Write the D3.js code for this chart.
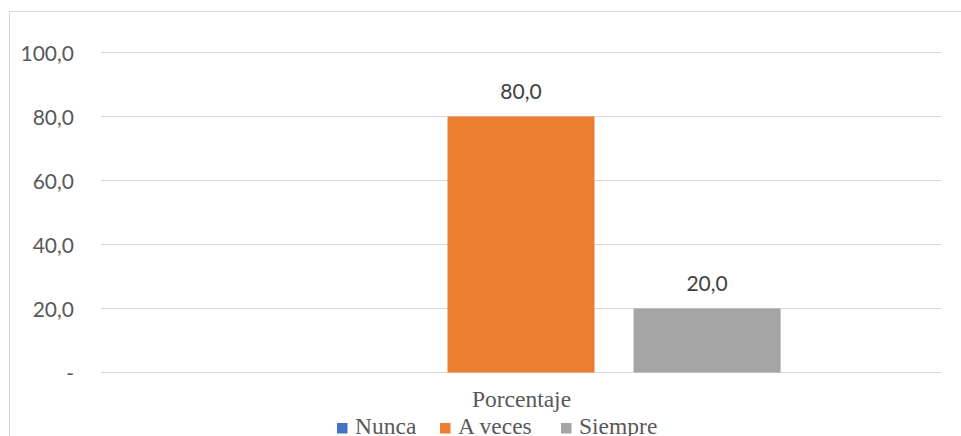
<!DOCTYPE html>
<html>
<head>
<meta charset="utf-8">
<script src="https://cdn.jsdelivr.net/npm/d3@7"></script>
<style>
  html, body { margin: 0; padding: 0; background: #fff; }
  svg { display: block; }
</style>
</head>
<body>
<svg id="chart" width="961" height="436"></svg>
<script>
// ---- data ----
const categories = ["Porcentaje"];
const seriesNames = ["Nunca", "A veces", "Siempre"];
const seriesValues = [0, 80, 20];
const seriesColors = ["#4472C4", "#ED7D31", "#A5A5A5"];
const yTicks = [0, 20, 40, 60, 80, 100];

const fmt = v => v === 0 ? "-" : d3.format(".1f")(v).replace(".", ",");

const svg = d3.select("#chart");
const W = 961, H = 436;

// chart border (right and bottom lie outside the picture)
svg.append("rect")
  .attr("x", 9.5).attr("y", 11.5)
  .attr("width", 1000).attr("height", 1000)
  .attr("fill", "none").attr("stroke", "#D9D9D9").attr("stroke-width", 1);

const plot = { left: 101, right: 941, top: 52.5, bottom: 372.5 };

const y = d3.scaleLinear().domain([0, 100]).range([plot.bottom, plot.top]);
const x0 = d3.scaleBand().domain(categories).range([plot.left, plot.right])
  .paddingInner(0).paddingOuter(0.309);
const x1 = d3.scaleBand().domain(seriesNames).range([0, x0.bandwidth()])
  .paddingInner(0.21).paddingOuter(0);

// gridlines
svg.append("g").selectAll("line").data(yTicks).join("line")
  .attr("x1", plot.left).attr("x2", plot.right)
  .attr("y1", d => y(d)).attr("y2", d => y(d))
  .attr("stroke", "#D9D9D9").attr("stroke-width", 1.2);

// y axis labels
const yAxis = d3.axisLeft(y).tickValues(yTicks).tickFormat(fmt).tickSize(0).tickPadding(0);
const gy = svg.append("g").attr("transform", "translate(74,0)").call(yAxis);
gy.select(".domain").remove();
gy.selectAll("text")
  .attr("font-family", "Lato, 'Open Sans', sans-serif")
  .attr("font-size", 21)
  .attr("fill", "#595959")
  .attr("dy", "0.36em");

// bars
const data = seriesNames.map((s, i) => ({ cat: categories[0], name: s, value: seriesValues[i], color: seriesColors[i] }));
const g = svg.append("g");
g.selectAll("rect").data(data).join("rect")
  .attr("x", d => x0(d.cat) + x1(d.name))
  .attr("width", x1.bandwidth())
  .attr("y", d => y(d.value))
  .attr("height", d => y(0) - y(d.value))
  .attr("fill", d => d.color);

// data labels
g.selectAll("text.lbl").data(data.filter(d => d.value > 0)).join("text")
  .attr("class", "lbl")
  .attr("x", d => x0(d.cat) + x1(d.name) + x1.bandwidth() / 2)
  .attr("y", d => y(d.value) - 25)
  .attr("dy", "0.36em")
  .attr("text-anchor", "middle")
  .attr("font-family", "Lato, 'Open Sans', sans-serif")
  .attr("font-size", 21)
  .attr("fill", "#404040")
  .text(d => fmt(d.value));

// category axis label
const xAxis = d3.axisBottom(x0).tickSize(0).tickPadding(0);
const gx = svg.append("g").attr("transform", "translate(0,407)").call(xAxis);
gx.select(".domain").remove();
gx.selectAll("text")
  .attr("font-family", "'Liberation Serif', 'Times New Roman', serif")
  .attr("font-size", 23.5)
  .attr("fill", "#595959")
  .attr("dy", 0)
  .attr("x", 0.5);

// legend
const legendX = [337, 440, 561];
const leg = svg.append("g");
seriesNames.forEach((s, i) => {
  leg.append("rect")
    .attr("x", legendX[i]).attr("y", 423)
    .attr("width", 10.5).attr("height", 10.5)
    .attr("fill", seriesColors[i]);
  leg.append("text")
    .attr("x", legendX[i] + 18).attr("y", 433.8)
    .attr("font-family", "'Liberation Serif', 'Times New Roman', serif")
    .attr("font-size", 23.5)
    .attr("fill", "#595959")
    .text(s);
});
</script>
</body>
</html>
